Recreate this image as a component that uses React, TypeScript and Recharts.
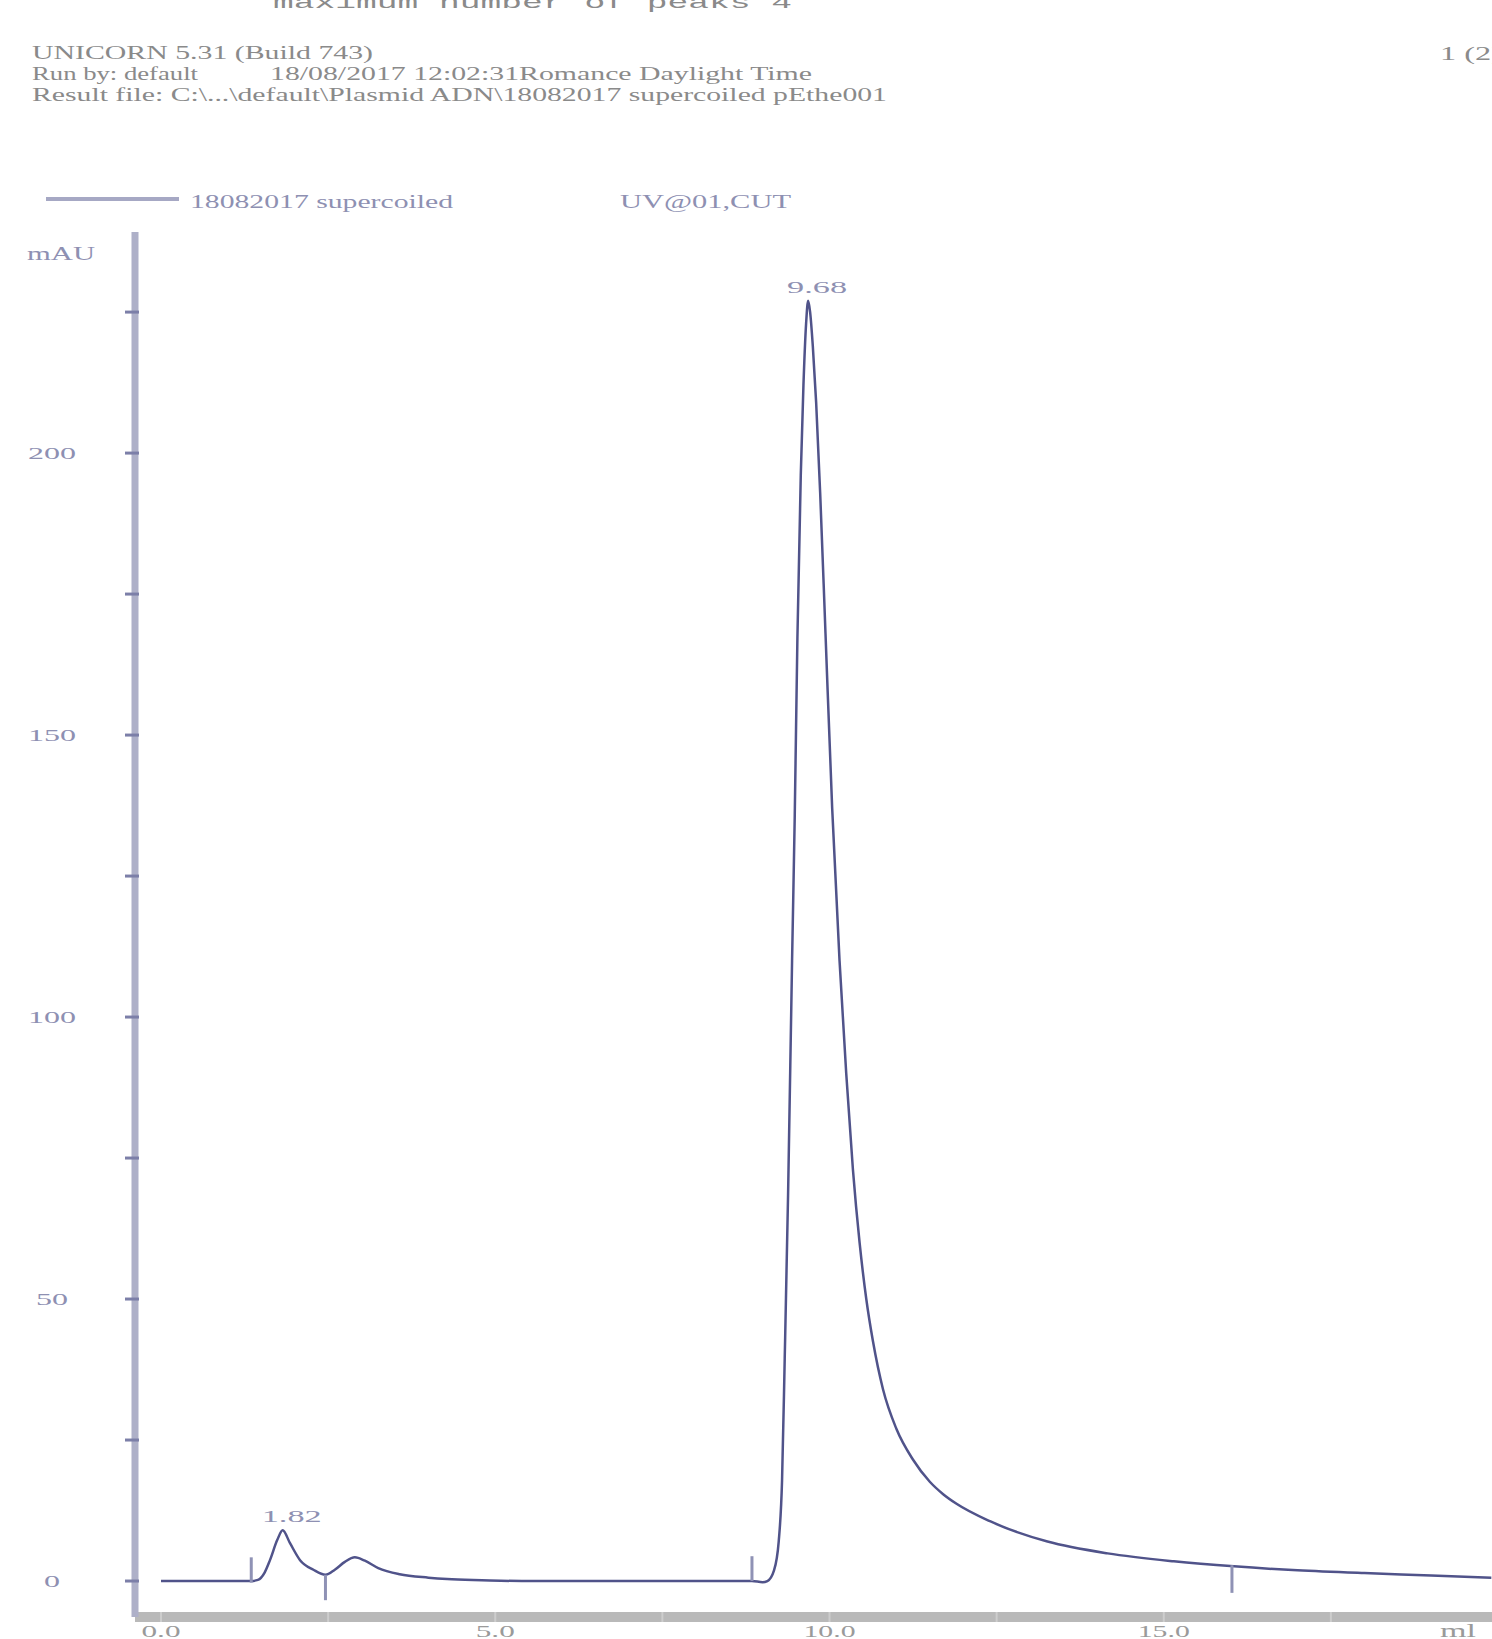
import React from "react";
import { LineChart, Line, XAxis, YAxis, ReferenceDot, ReferenceLine } from "recharts";

// elution volume (ml) and UV signal (mAU)
const retention = [
  0, 0.5, 1.0, 1.35, 1.45, 1.55, 1.63, 1.74, 1.82, 1.93, 2.08, 2.28, 2.46, 2.6, 2.75, 2.9, 3.05, 3.25, 3.57,
  4.0, 4.28, 4.8, 5.4, 6.5, 7.5, 8.5, 8.84, 9.0, 9.07, 9.17, 9.24, 9.29, 9.33, 9.38, 9.44, 9.48, 9.52, 9.57,
  9.61, 9.65, 9.68, 9.71, 9.75, 9.8, 9.86, 9.94, 10.04, 10.15, 10.25, 10.35, 10.45, 10.55, 10.65, 10.8,
  11.0, 11.25, 11.5, 11.7, 11.9, 12.4, 13.26, 14.16, 15.15, 16.05, 17.0, 18.0, 19.0, 19.9,
];
const absorbance = [
  0, 0, 0, 0, 0.2, 1.5, 3.7, 7.3, 9.0, 6.7, 3.7, 2.0, 1.1, 2.0, 3.4, 4.2, 3.6, 2.3, 1.2,
  0.6, 0.35, 0.15, 0, 0, 0, 0, 0, -0.2, 0, 1.9, 7, 17.8, 39.5, 68.4, 110, 135.7, 167.4, 196,
  212, 223, 227, 225, 219, 209, 193, 168, 137, 110, 90, 73, 60, 50, 42.5, 34,
  27, 21.5, 17.6, 15.4, 13.7, 10.6, 7, 4.9, 3.5, 2.6, 1.9, 1.4, 1.0, 0.6,
];

const xTicks = [0, 2.5, 5, 7.5, 10, 12.5, 15, 17.5];
const xLabels = ["0.0", "", "5.0", "", "10.0", "", "15.0", ""];
const yTicks = [0, 25, 50, 75, 100, 125, 150, 175, 200, 225];

const peakTimes = [1.82, 9.68];
const peakHeights = [9.0, 227];
const peakNames = ["1.82", "9.68"];

// integration limit marks
const markTimes = [1.35, 2.46, 8.84, 16.02];
const markTop = [4.2, 1.1, 4.4, 2.8];
const markBottom = [-0.3, -3.4, 0, -2.1];

const chromatogram = retention.map((t, i) => ({ ml: t, mAU: absorbance[i] }));

const SERIF = "'Liberation Serif', 'DejaVu Serif', serif";
const TRACE = "#50538a";
const BLUE_TEXT = "#8e90b2";

function YTick(props: any) {
  const { y, payload } = props;
  const v = payload.value as number;
  const s = String(v);
  return (
    <g>
      <line x1={125} x2={139} y1={y} y2={y} stroke="#7c7fa8" strokeWidth={3} />
      {v % 50 === 0 && (
        <text
          x={52}
          y={y + 6}
          textAnchor="middle"
          fontFamily={SERIF}
          fontSize={17}
          fill={BLUE_TEXT}
          textLength={16 * s.length}
          lengthAdjust="spacingAndGlyphs"
        >
          {s}
        </text>
      )}
    </g>
  );
}

function XTick(props: any) {
  const { x, index } = props;
  const s = xLabels[index] || "";
  return (
    <g>
      <line x1={x} x2={x} y1={1612} y2={1622} stroke="#cdcdcd" strokeWidth={2} />
      {s && (
        <text
          x={x}
          y={1637}
          textAnchor="middle"
          fontFamily={SERIF}
          fontSize={17}
          fill="#9a9a9a"
          textLength={13 * s.length}
          lengthAdjust="spacingAndGlyphs"
        >
          {s}
        </text>
      )}
    </g>
  );
}

function peakLabel(name: string) {
  return (p: any) => {
    const vb = p.viewBox;
    return (
      <text
        x={vb.x + 9}
        y={vb.y - 8}
        textAnchor="middle"
        fontFamily={SERIF}
        fontSize={17}
        fill={BLUE_TEXT}
        textLength={60}
        lengthAdjust="spacingAndGlyphs"
      >
        {name}
      </text>
    );
  };
}

function HeaderText({ x, y, w, children, color = "#8a8a8a", font = SERIF }: any) {
  return (
    <text x={x} y={y} fontFamily={font} fontSize={18} fill={color} textLength={w} lengthAdjust="spacingAndGlyphs">
      {children}
    </text>
  );
}

export default function App() {
  return (
    <div style={{ position: "absolute", left: 0, top: 0, width: 1492, height: 1639, background: "#fff" }}>
      <LineChart width={1492} height={1639} data={chromatogram} margin={{ top: 232, right: 0, bottom: 0, left: 0 }}>
        <XAxis
          dataKey="ml"
          type="number"
          domain={[-0.389, 19.91]}
          allowDataOverflow
          ticks={xTicks}
          interval={0}
          height={22}
          axisLine={{ stroke: "#b9b9b9", strokeWidth: 10 }}
          tickLine={false}
          tick={(p: any) => <XTick {...p} />}
        />
        <YAxis
          type="number"
          domain={[-6.38, 239.2]}
          allowDataOverflow
          ticks={yTicks}
          interval={0}
          width={135}
          axisLine={{ stroke: "#aeb0c8", strokeWidth: 7 }}
          tickLine={false}
          tick={(p: any) => <YTick {...p} />}
        />
        <Line
          type="monotone"
          dataKey="mAU"
          stroke={TRACE}
          strokeWidth={2.5}
          dot={false}
          isAnimationActive={false}
        />
        {markTimes.map((t, i) => (
          <ReferenceLine
            key={"m" + i}
            segment={[
              { x: t, y: markBottom[i] },
              { x: t, y: markTop[i] },
            ]}
            stroke="#8f92b5"
            strokeWidth={3}
          />
        ))}
        {peakTimes.map((t, i) => (
          <ReferenceDot
            key={"p" + i}
            x={t}
            y={peakHeights[i]}
            r={0}
            stroke="none"
            fill="none"
            label={peakLabel(peakNames[i])}
          />
        ))}
      </LineChart>
      <svg
        width={1492}
        height={1639}
        style={{ position: "absolute", left: 0, top: 0, pointerEvents: "none" }}
      >
        <HeaderText x={273} y={8} w={519} font="'Liberation Mono', monospace">
          maximum number of peaks 4
        </HeaderText>
        <HeaderText x={32} y={59} w={341}>UNICORN 5.31 (Build 743)</HeaderText>
        <HeaderText x={1440} y={60} w={62}>1 (2)</HeaderText>
        <HeaderText x={32} y={80} w={166}>Run by: default</HeaderText>
        <HeaderText x={270} y={80} w={542}>18/08/2017 12:02:31Romance Daylight Time</HeaderText>
        <HeaderText x={32} y={101} w={855}>
          {"Result file: C:\\...\\default\\Plasmid ADN\\18082017 supercoiled pEthe001"}
        </HeaderText>

        <line x1={46} x2={179} y1={199} y2={199} stroke="#a6a8c4" strokeWidth={4} />
        <HeaderText x={190} y={208} w={263} color={BLUE_TEXT}>18082017 supercoiled</HeaderText>
        <HeaderText x={620} y={208} w={171} color={BLUE_TEXT}>UV@01,CUT</HeaderText>

        <HeaderText x={27} y={260} w={68} color={BLUE_TEXT}>mAU</HeaderText>
        <HeaderText x={1440} y={1637} w={36} color="#9a9a9a">ml</HeaderText>
      </svg>
    </div>
  );
}
